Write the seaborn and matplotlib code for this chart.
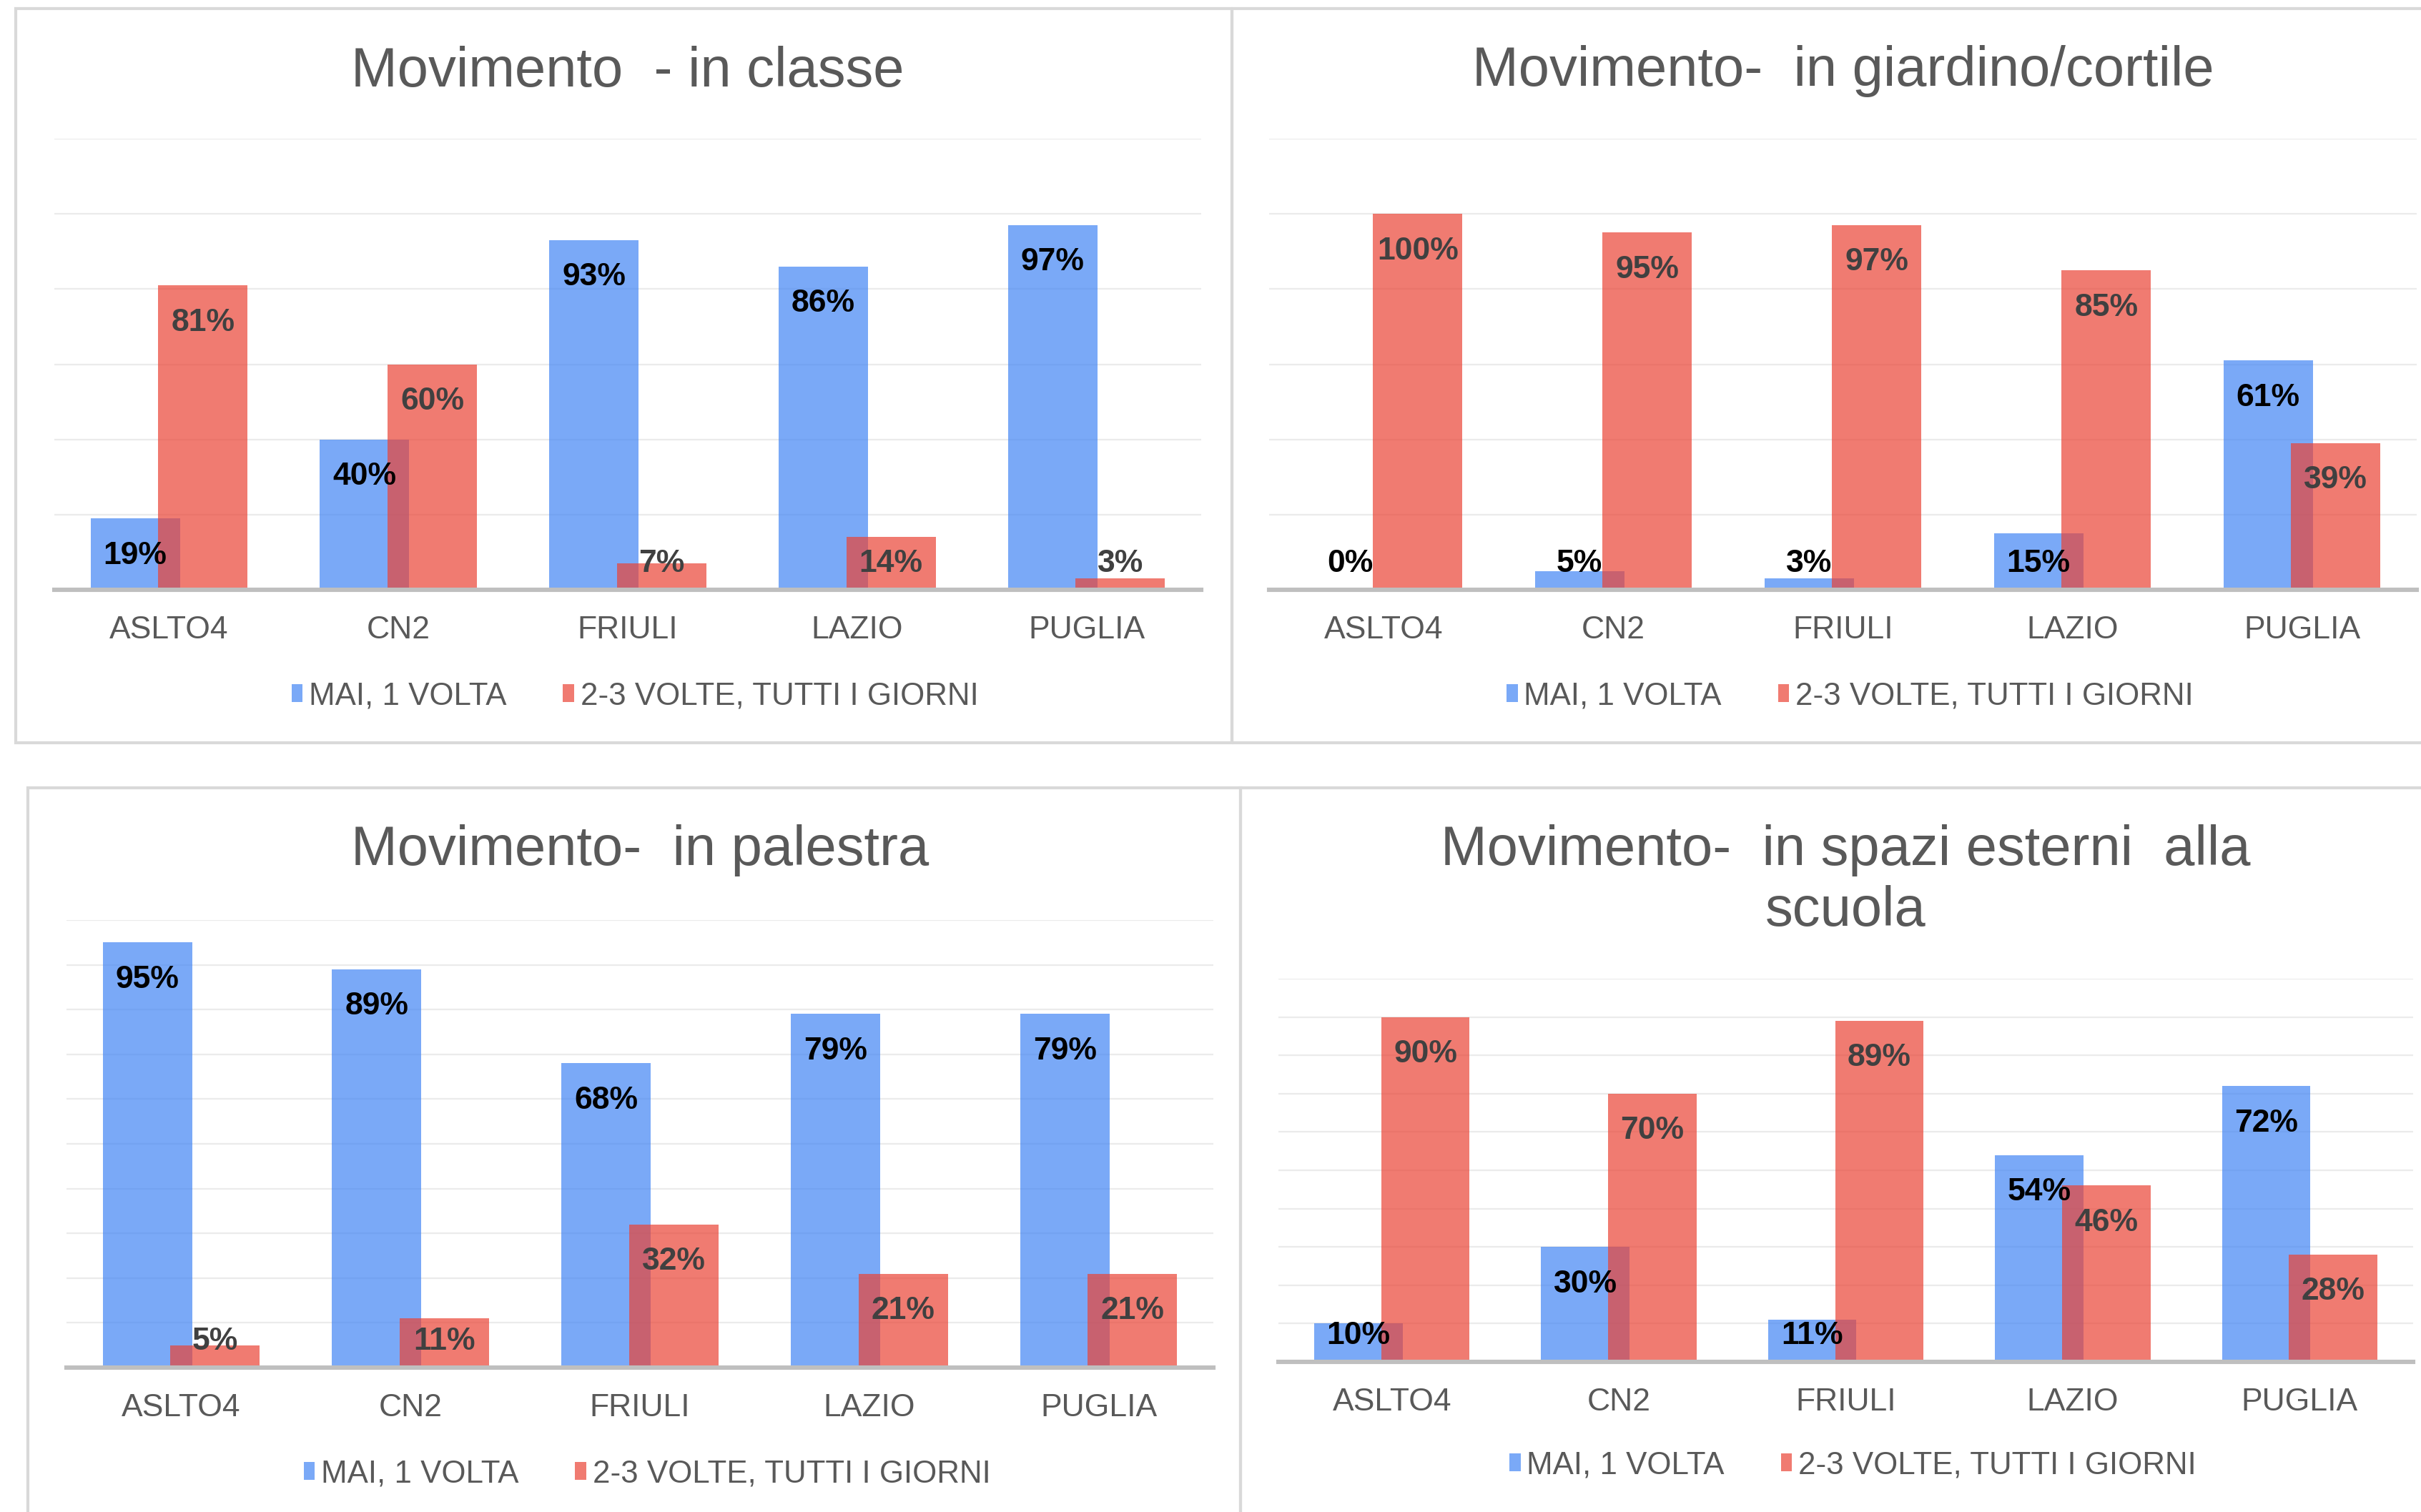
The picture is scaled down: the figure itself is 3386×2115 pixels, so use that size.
import matplotlib
matplotlib.use("Agg")
import matplotlib.pyplot as plt
from matplotlib.patches import Rectangle
import pandas as pd
import seaborn as sns

# data
regions = ["ASLTO4", "CN2", "FRIULI", "LAZIO", "PUGLIA"]
series_names = ["MAI, 1 VOLTA", "2-3 VOLTE, TUTTI I GIORNI"]

classe_mai = [19, 40, 93, 86, 97]
classe_spesso = [81, 60, 7, 14, 3]
giardino_mai = [0, 5, 3, 15, 61]
giardino_spesso = [100, 95, 97, 85, 39]
palestra_mai = [95, 89, 68, 79, 79]
palestra_spesso = [5, 11, 32, 21, 21]
esterni_mai = [10, 30, 11, 54, 72]
esterni_spesso = [90, 70, 89, 46, 28]

titles = ["Movimento  - in classe",
          "Movimento-  in giardino/cortile",
          "Movimento-  in palestra",
          "Movimento-  in spazi esterni  alla\nscuola"]

sns.set_theme(style="white")
plt.rcParams['font.family'] = ['Liberation Sans', 'DejaVu Sans']

W, H = 3386, 2115
DPI = 200
fig = plt.figure(figsize=(W / DPI, H / DPI), dpi=DPI)

palette = {series_names[0]: "#4285F4", series_names[1]: "#EA4335"}
label_colors = ["#000000", "#404040"]
grey_txt = "#595959"


def px_rect(x0, y0, x1, y1):
    # pixel box (top-left origin) -> figure fraction rect
    return [x0 / W, 1 - y1 / H, (x1 - x0) / W, (y1 - y0) / H]


# panel frames
for (x0, y0, x1, y1) in [(22, 12, 1723, 1039), (1723, 12, 3400, 1039),
                         (39, 1102, 1735, 2130), (1735, 1102, 3400, 2130)]:
    r = px_rect(x0, y0, x1, y1)
    fig.patches.append(Rectangle((r[0], r[1]), r[2], r[3], transform=fig.transFigure,
                                 fill=False, edgecolor="#d9d9d9", linewidth=1.5, zorder=0))

panels = [
    dict(mai=classe_mai, spesso=classe_spesso, box=(76, 194, 1680, 825), ymax=120, step=20,
         title_y=100, legend_y=974),
    dict(mai=giardino_mai, spesso=giardino_spesso, box=(1775, 194, 3380, 825), ymax=120, step=20,
         title_y=100, legend_y=974),
    dict(mai=palestra_mai, spesso=palestra_spesso, box=(93, 1287, 1697, 1913), ymax=100, step=10,
         title_y=1190, legend_y=2062),
    dict(mai=esterni_mai, spesso=esterni_spesso, box=(1788, 1369, 3375, 1905), ymax=100, step=10,
         title_y=1232, legend_y=2050),
]

for p, title in zip(panels, titles):
    x0, y0, x1, y1 = p["box"]
    ax = fig.add_axes(px_rect(x0, y0, x1, y1))
    df = pd.DataFrame({
        "region": regions * 2,
        "value": p["mai"] + p["spesso"],
        "serie": [series_names[0]] * 5 + [series_names[1]] * 5,
    })
    sns.barplot(data=df, x="region", y="value", hue="serie", order=regions,
                hue_order=series_names, palette=palette, saturation=1, alpha=0.7,
                width=0.59, gap=-0.32, linewidth=0, legend=False, ax=ax)

    ax.set_ylim(0, p["ymax"])
    ax.set_xlim(-0.5, len(regions) - 0.5)
    ax.set_yticks(range(0, p["ymax"] + 1, p["step"]))
    ax.set_yticklabels([])
    ax.yaxis.grid(True, color="#ebebeb", linewidth=0.8)
    ax.set_axisbelow(True)
    for s in ["top", "right", "left"]:
        ax.spines[s].set_visible(False)
    ax.spines["bottom"].set_color("#bfbfbf")
    ax.spines["bottom"].set_linewidth(2.2)
    ax.set_xlabel("")
    ax.set_ylabel("")
    ax.tick_params(axis="x", length=0, pad=13, labelsize=16, labelcolor=grey_txt)
    ax.tick_params(axis="y", length=0)

    # data labels, Excel-like "inside end"
    px_per_unit = (y1 - y0) / p["ymax"]
    for cont, col in zip(ax.containers, label_colors):
        for bar in cont:
            v = bar.get_height()
            cx = bar.get_x() + bar.get_width() / 2
            center_px = max(v * px_per_unit - 52, 37)
            ax.annotate(f"{v:.0f}%", xy=(cx, 0), xytext=(0, center_px * 72 / DPI),
                        textcoords="offset points", ha="center", va="center",
                        fontsize=16, fontweight="bold", color=col)

    xc = (x0 + x1) / 2 / W
    fig.text(xc, 1 - p["title_y"] / H, title, ha="center", va="center",
             fontsize=28, color=grey_txt, linespacing=1.2)

    ax.legend(handles=list(ax.containers), labels=series_names, loc="center",
              bbox_to_anchor=(xc + 10 / W, 1 - p["legend_y"] / H),
              bbox_transform=fig.transFigure, ncol=2, frameon=False,
              fontsize=15.8, labelcolor=grey_txt, handlelength=0.35, handleheight=0.5,
              handletextpad=0.2, columnspacing=1.8)

fig.savefig("out.png", dpi=DPI, facecolor="white")
